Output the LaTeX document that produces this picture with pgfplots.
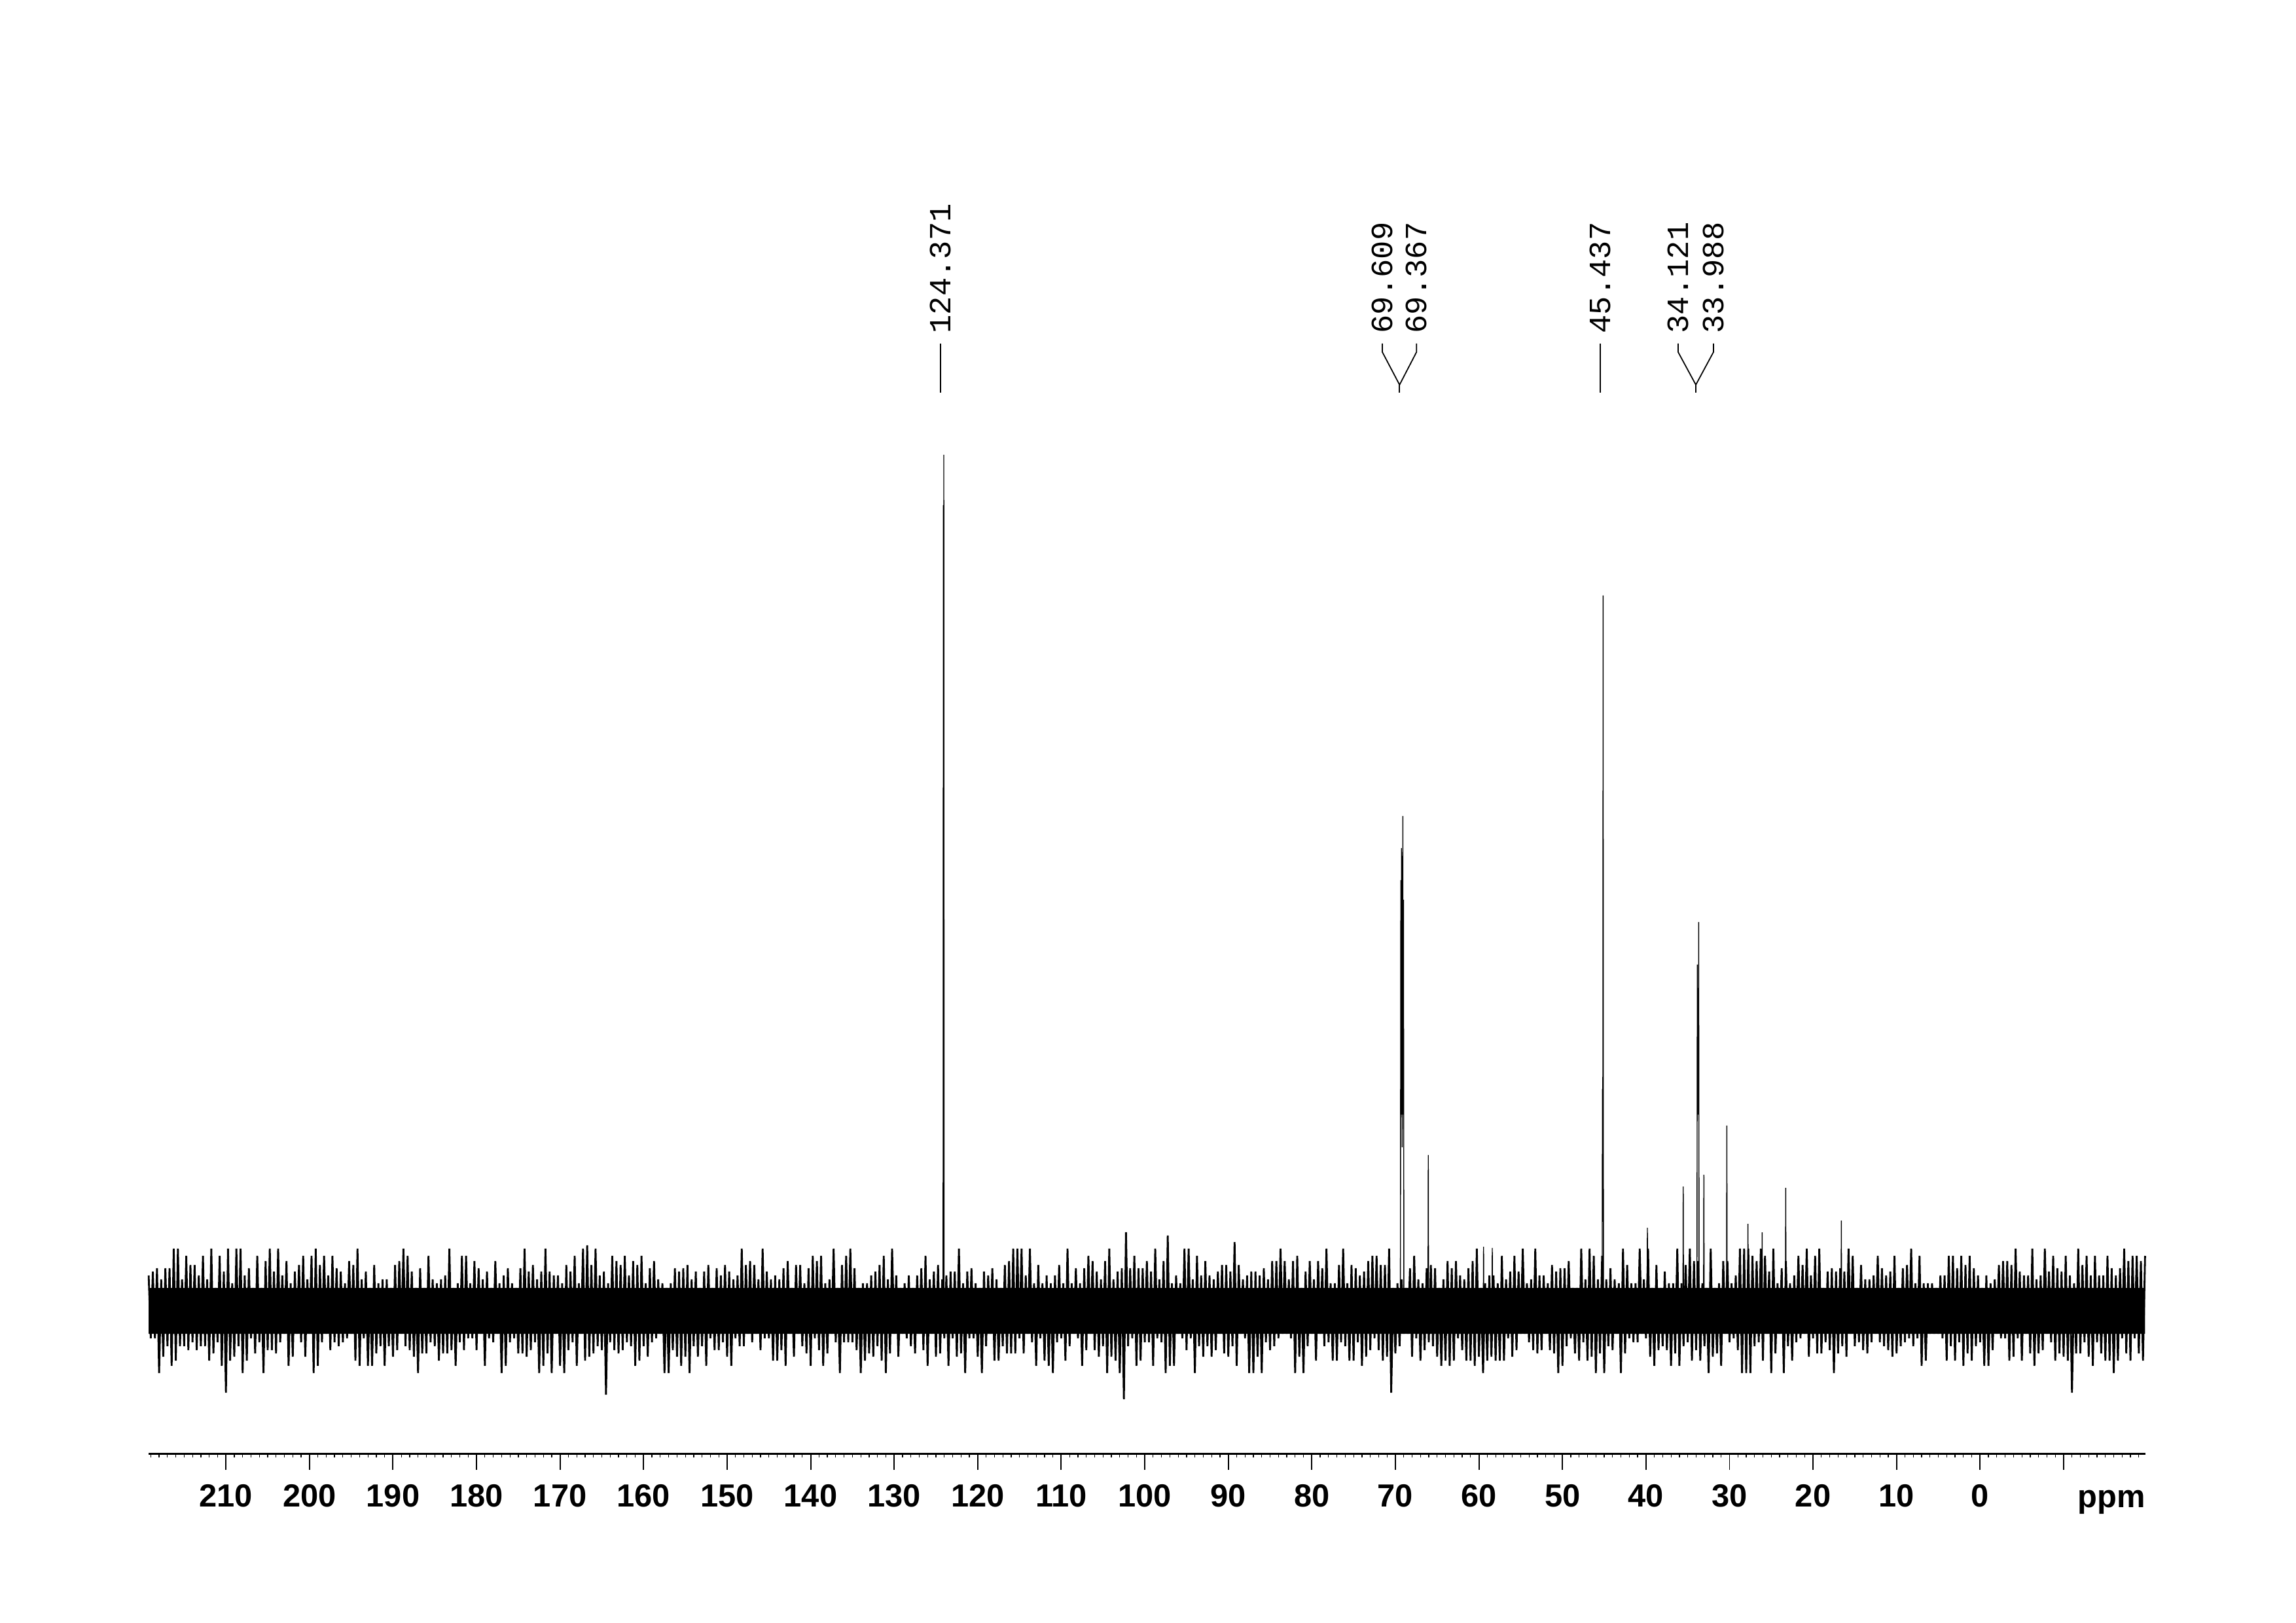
\documentclass[border=0pt]{standalone}
\usepackage{fontspec}
\setmainfont{Liberation Sans}
\newfontfamily\monofont{Liberation Mono}
\usepackage{pgfplots}
\pgfplotsset{compat=1.18}
\begin{document}
\begin{tikzpicture}
\path[use as bounding box] (0,0) rectangle (350.8mm,247.9mm);
\begin{axis}[
 at={(22.68mm,25.8mm)}, anchor=south west,
 scale only axis, width=305.15mm, height=212.1mm,
 x dir=reverse, xmin=-19.82, xmax=219.28, ymin=-218, ymax=1903,
 axis x line*=bottom, axis y line=none,
 axis line style={line width=0.85pt, -},
 xtick={-10,0,10,...,210},
 xticklabels={{},0,10,20,30,40,50,60,70,80,90,100,110,120,130,140,150,160,170,180,190,200,210},
 minor xtick={-19,-18,...,219},
 tick align=outside,
 major tick length=2.5mm, minor tick length=0.6mm,
 every major tick/.append style={line width=0.55pt, black},
 every minor tick/.append style={line width=0.35pt, black},
 xticklabel style={font=\bfseries\fontsize{13.9}{14}\selectfont, inner sep=0pt, anchor=north, yshift=-2.2mm},
 clip=false,
]
% dense core of the noise band
\addplot[fill=black, draw=none, mark=none] coordinates {(219.25,-35)(219.25,35)(-19.75,35)(-19.75,-35)(219.25,-35)};
% baseline noise
\addplot[black, mark=none, line width=0.8pt, line join=bevel] coordinates {
(219.25,54)
(219,-42)(218.75,60)(218.5,-42)(218.25,65)
(218,-95)(217.75,48)(217.5,-70)(217.25,65)
(217,-54)(216.75,65)(216.5,-84)(216.25,95)
(216,-76)(215.75,95)(215.5,-54)(215.25,48)
(215,-54)(214.75,84)(214.5,-60)(214.25,70)
(214,-48)(213.75,70)(213.5,-60)(213.25,54)
(213,-54)(212.75,84)(212.5,-54)(212.25,48)
(212,-76)(211.75,95)(211.5,-65)(211.25,35)
(211,-48)(210.75,84)(210.5,-84)(210.25,60)
(210,-125)(209.75,95)(209.5,-76)(209.25,42)
(209,-70)(208.75,95)(208.5,-54)(208.25,95)
(208,-95)(207.75,54)(207.5,-76)(207.25,65)
(207,-42)(206.75,35)(206.5,-65)(206.25,84)
(206,-48)(205.75,35)(205.5,-95)(205.25,76)
(205,-60)(204.75,95)(204.5,-60)(204.25,60)
(204,-65)(203.75,95)(203.5,-48)(203.25,54)
(203,-35)(202.75,76)(202.5,-84)(202.25,42)
(202,-70)(201.75,60)(201.5,-35)(201.25,70)
(201,-48)(200.75,84)(200.5,-70)(200.25,48)
(200,-35)(199.75,84)(199.5,-95)(199.25,95)
(199,-84)(198.75,70)(198.5,-48)(198.25,84)
(198,-35)(197.75,54)(197.5,-60)(197.25,84)
(197,-48)(196.75,65)(196.5,-54)(196.25,60)
(196,-48)(195.75,42)(195.5,-42)(195.25,76)
(195,-35)(194.75,70)(194.5,-76)(194.25,95)
(194,-84)(193.75,48)(193.5,-42)(193.25,60)
(193,-84)(192.75,35)(192.5,-84)(192.25,70)
(192,-65)(191.75,42)(191.5,-54)(191.25,48)
(191,-84)(190.75,48)(190.5,-54)(190.25,35)
(190,-70)(189.75,70)(189.5,-60)(189.25,76)
(189,-35)(188.75,95)(188.5,-54)(188.25,84)
(188,-60)(187.75,60)(187.5,-70)(187.25,35)
(187,-95)(186.75,65)(186.5,-65)(186.25,35)
(186,-65)(185.75,84)(185.5,-48)(185.25,48)
(185,-54)(184.75,42)(184.5,-76)(184.25,48)
(184,-65)(183.75,54)(183.5,-65)(183.25,95)
(183,-60)(182.75,35)(182.5,-84)(182.25,42)
(182,-48)(181.75,84)(181.5,-60)(181.25,84)
(181,-42)(180.75,42)(180.5,-42)(180.25,76)
(180,-60)(179.75,65)(179.5,-35)(179.25,48)
(179,-84)(178.75,60)(178.5,-42)(178.25,35)
(178,-48)(177.75,76)(177.5,-35)(177.25,42)
(177,-95)(176.75,54)(176.5,-84)(176.25,65)
(176,-48)(175.75,42)(175.5,-42)(175.25,35)
(175,-65)(174.75,65)(174.5,-65)(174.25,95)
(174,-70)(173.75,60)(173.5,-60)(173.25,70)
(173,-48)(172.75,48)(172.5,-95)(172.25,60)
(172,-84)(171.75,95)(171.5,-65)(171.25,60)
(171,-95)(170.75,54)(170.5,-35)(170.25,54)
(170,-84)(169.75,42)(169.5,-95)(169.25,70)
(169,-60)(168.75,60)(168.5,-48)(168.25,84)
(168,-84)(167.75,42)(167.5,-35)(167.25,95)
(167,-76)(166.75,100)(166.5,-70)(166.25,70)
(166,-65)(165.75,95)(165.5,-54)(165.25,54)
(165,-60)(164.75,60)(164.5,-128)(164.25,42)
(164,-48)(163.75,84)(163.5,-60)(163.25,76)
(163,-65)(162.75,70)(162.5,-60)(162.25,84)
(162,-48)(161.75,54)(161.5,-54)(161.25,76)
(161,-84)(160.75,70)(160.5,-76)(160.25,84)
(160,-54)(159.75,42)(159.5,-70)(159.25,65)
(159,-48)(158.75,76)(158.5,-42)(158.25,48)
(158,-35)(157.75,42)(157.5,-95)(157.25,35)
(157,-95)(156.75,42)(156.5,-60)(156.25,65)
(156,-70)(155.75,60)(155.5,-84)(155.25,65)
(155,-70)(154.75,70)(154.5,-95)(154.25,48)
(154,-54)(153.75,60)(153.5,-70)(153.25,35)
(153,-54)(152.75,60)(152.5,-84)(152.25,70)
(152,-42)(151.75,35)(151.5,-60)(151.25,65)
(151,-60)(150.75,54)(150.5,-48)(150.25,70)
(150,-70)(149.75,60)(149.5,-84)(149.25,48)
(149,-42)(148.75,54)(148.5,-54)(148.25,95)
(148,-54)(147.75,70)(147.5,-35)(147.25,76)
(147,-48)(146.75,70)(146.5,-35)(146.25,48)
(146,-60)(145.75,95)(145.5,-42)(145.25,60)
(145,-42)(144.75,48)(144.5,-76)(144.25,54)
(144,-76)(143.75,48)(143.5,-60)(143.25,65)
(143,-84)(142.75,76)(142.5,-35)(142.25,35)
(142,-70)(141.75,70)(141.5,-35)(141.25,70)
(141,-54)(140.75,42)(140.5,-65)(140.25,65)
(140,-84)(139.75,84)(139.5,-42)(139.25,76)
(139,-60)(138.75,84)(138.5,-84)(138.25,42)
(138,-65)(137.75,48)(137.5,-35)(137.25,95)
(137,-48)(136.75,35)(136.5,-95)(136.25,70)
(136,-48)(135.75,84)(135.5,-48)(135.25,95)
(135,-48)(134.75,65)(134.5,-60)(134.25,35)
(134,-95)(133.75,42)(133.5,-76)(133.25,42)
(133,-65)(132.75,54)(132.5,-70)(132.25,60)
(132,-54)(131.75,70)(131.5,-76)(131.25,84)
(131,-95)(130.75,48)(130.5,-65)(130.25,95)
(130,-35)(129.75,54)(129.5,-70)(129.25,35)
(129,-35)(128.75,42)(128.5,-42)(128.25,54)
(128,-54)(127.75,35)(127.5,-65)(127.25,54)
(127,-35)(126.75,65)(126.5,-60)(126.25,84)
(126,-84)(125.75,48)(125.5,-35)(125.25,60)
(125,-70)(124.75,70)(124.5,-65)(124.25,48)
(124,-42)(123.75,54)(123.5,-84)(123.25,60)
(123,-42)(122.75,60)(122.5,-70)(122.25,95)
(122,-65)(121.75,42)(121.5,-95)(121.25,60)
(121,-42)(120.75,65)(120.5,-42)(120.25,42)
(120,-70)(119.75,35)(119.5,-95)(119.25,60)
(119,-54)(118.75,54)(118.5,-35)(118.25,65)
(118,-76)(117.75,48)(117.5,-76)(117.25,35)
(117,-54)(116.75,70)(116.5,-65)(116.25,76)
(116,-65)(115.75,95)(115.5,-65)(115.25,95)
(115,-42)(114.75,95)(114.5,-65)(114.25,54)
(114,-35)(113.75,95)(113.5,-48)(113.25,42)
(113,-84)(112.75,70)(112.5,-42)(112.25,42)
(112,-76)(111.75,54)(111.5,-84)(111.25,42)
(111,-95)(110.75,54)(110.5,-48)(110.25,70)
(110,-42)(109.75,42)(109.5,-76)(109.25,95)
(109,-54)(108.75,42)(108.5,-35)(108.25,65)
(108,-42)(107.75,42)(107.5,-84)(107.25,65)
(107,-60)(106.75,84)(106.5,-35)(106.25,76)
(106,-60)(105.75,60)(105.5,-70)(105.25,48)
(105,-54)(104.75,76)(104.5,-95)(104.25,95)
(104,-70)(103.75,48)(103.5,-76)(103.25,60)
(103,-95)(102.75,65)(102.5,-135)(102.25,120)
(102,-54)(101.75,65)(101.5,-42)(101.25,84)
(101,-84)(100.75,65)(100.5,-76)(100.25,65)
(100,-48)(99.75,76)(99.5,-48)(99.25,60)
(99,-84)(98.75,95)(98.5,-42)(98.25,48)
(98,-48)(97.75,76)(97.5,-95)(97.25,115)
(97,-84)(96.75,42)(96.5,-84)(96.25,54)
(96,-35)(95.75,42)(95.5,-42)(95.25,95)
(95,-60)(94.75,95)(94.5,-42)(94.25,48)
(94,-95)(93.75,84)(93.5,-54)(93.25,54)
(93,-70)(92.75,76)(92.5,-54)(92.25,54)
(92,-70)(91.75,48)(91.5,-60)(91.25,60)
(91,-35)(90.75,70)(90.5,-65)(90.25,70)
(90,-70)(89.75,60)(89.5,-54)(89.25,105)
(89,-84)(88.75,70)(88.5,-35)(88.25,48)
(88,-42)(87.75,54)(87.5,-95)(87.25,60)
(87,-95)(86.75,60)(86.5,-70)(86.25,54)
(86,-95)(85.75,65)(85.5,-48)(85.25,48)
(85,-60)(84.75,76)(84.5,-54)(84.25,76)
(84,-42)(83.75,95)(83.5,-35)(83.25,76)
(83,-35)(82.75,48)(82.5,-42)(82.25,76)
(82,-95)(81.75,84)(81.5,-70)(81.25,35)
(81,-95)(80.75,60)(80.5,-54)(80.25,76)
(80,-35)(79.75,48)(79.5,-76)(79.25,76)
(79,-35)(78.75,65)(78.5,-54)(78.25,95)
(78,-48)(77.75,42)(77.5,-76)(77.25,42)
(77,-76)(76.75,70)(76.5,-48)(76.25,95)
(76,-54)(75.75,42)(75.5,-76)(75.25,70)
(75,-76)(74.75,65)(74.5,-48)(74.25,54)
(74,-84)(73.75,60)(73.5,-70)(73.25,76)
(73,-60)(72.75,84)(72.5,-42)(72.25,84)
(72,-60)(71.75,70)(71.5,-76)(71.25,70)
(71,-70)(70.75,95)(70.5,-125)(70.25,35)
(70,-65)(69.75,42)(69.5,-54)(69.25,48)
(69,-35)(68.75,35)(68.5,-35)(68.25,65)
(68,-70)(67.75,84)(67.5,-42)(67.25,48)
(67,-76)(66.75,42)(66.5,-60)(66.25,65)
(66,-48)(65.75,70)(65.5,-54)(65.25,65)
(65,-70)(64.75,35)(64.5,-84)(64.25,48)
(64,-76)(63.75,76)(63.5,-84)(63.25,65)
(63,-76)(62.75,76)(62.5,-42)(62.25,54)
(62,-60)(61.75,48)(61.5,-76)(61.25,65)
(61,-76)(60.75,76)(60.5,-84)(60.25,95)
(60,-70)(59.75,35)(59.5,-95)(59.25,42)
(59,-76)(58.75,54)(58.5,-70)(58.25,54)
(58,-76)(57.75,42)(57.5,-76)(57.25,84)
(57,-76)(56.75,48)(56.5,-42)(56.25,60)
(56,-70)(55.75,84)(55.5,-60)(55.25,60)
(55,-35)(54.75,95)(54.5,-35)(54.25,42)
(54,-48)(53.75,48)(53.5,-60)(53.25,95)
(53,-65)(52.75,54)(52.5,-60)(52.25,54)
(52,-35)(51.75,42)(51.5,-60)(51.25,70)
(51,-65)(50.75,60)(50.5,-95)(50.25,65)
(50,-84)(49.75,65)(49.5,-54)(49.25,76)
(49,-42)(48.75,35)(48.5,-65)(48.25,35)
(48,-76)(47.75,95)(47.5,-48)(47.25,48)
(47,-76)(46.75,95)(46.5,-70)(46.25,84)
(46,-95)(45.75,48)(45.5,-65)(45.25,84)
(45,-95)(44.75,48)(44.5,-54)(44.25,65)
(44,-60)(43.75,48)(43.5,-35)(43.25,42)
(43,-95)(42.75,95)(42.5,-65)(42.25,70)
(42,-42)(41.75,42)(41.5,-48)(41.25,42)
(41,-48)(40.75,95)(40.5,-35)(40.25,48)
(40,-42)(39.75,95)(39.5,-70)(39.25,35)
(39,-84)(38.75,70)(38.5,-60)(38.25,35)
(38,-54)(37.75,60)(37.5,-60)(37.25,42)
(37,-84)(36.75,42)(36.5,-65)(36.25,95)
(36,-84)(35.75,42)(35.5,-54)(35.25,70)
(35,-48)(34.75,95)(34.5,-76)(34.25,76)
(34,-60)(33.75,76)(33.5,-76)(33.25,42)
(33,-54)(32.75,35)(32.5,-95)(32.25,95)
(32,-70)(31.75,35)(31.5,-65)(31.25,42)
(31,-84)(30.75,76)(30.5,-35)(30.25,76)
(30,-48)(29.75,42)(29.5,-42)(29.25,54)
(29,-60)(28.75,95)(28.5,-95)(28.25,95)
(28,-95)(27.75,95)(27.5,-95)(27.25,84)
(27,-54)(26.75,76)(26.5,-48)(26.25,95)
(26,-76)(25.75,84)(25.5,-35)(25.25,60)
(25,-95)(24.75,95)(24.5,-65)(24.25,42)
(24,-35)(23.75,65)(23.5,-95)(23.25,76)
(23,-54)(22.75,42)(22.5,-76)(22.25,54)
(22,-48)(21.75,84)(21.5,-42)(21.25,70)
(21,-35)(20.75,95)(20.5,-70)(20.25,54)
(20,-42)(19.75,84)(19.5,-65)(19.25,95)
(19,-65)(18.75,35)(18.5,-48)(18.25,60)
(18,-60)(17.75,65)(17.5,-95)(17.25,60)
(17,-65)(16.75,65)(16.5,-54)(16.25,60)
(16,-70)(15.75,95)(15.5,-35)(15.25,84)
(15,-54)(14.75,35)(14.5,-48)(14.25,70)
(14,-60)(13.75,48)(13.5,-65)(13.25,48)
(13,-48)(12.75,54)(12.5,-35)(12.25,84)
(12,-48)(11.75,65)(11.5,-54)(11.25,54)
(11,-60)(10.75,60)(10.5,-70)(10.25,84)
(10,-65)(9.75,35)(9.5,-54)(9.25,65)
(9,-48)(8.75,70)(8.5,-42)(8.25,95)
(8,-54)(7.75,42)(7.5,-42)(7.25,84)
(7,-84)(6.75,42)(6.5,-76)(6.25,42)
(6,-35)(5.75,42)(5.5,-35)(5.25,35)
(5,-35)(4.75,54)(4.5,-42)(4.25,54)
(4,-76)(3.75,84)(3.5,-54)(3.25,84)
(3,-76)(2.75,65)(2.5,-48)(2.25,84)
(2,-84)(1.75,70)(1.5,-65)(1.25,84)
(1,-76)(0.75,65)(0.5,-54)(0.25,54)
(0,-48)(-0.25,35)(-0.5,-84)(-0.75,54)
(-1,-84)(-1.25,42)(-1.5,-60)(-1.75,48)
(-2,-35)(-2.25,70)(-2.5,-42)(-2.75,76)
(-3,-42)(-3.25,76)(-3.5,-76)(-3.75,70)
(-4,-70)(-4.25,95)(-4.5,-42)(-4.75,60)
(-5,-76)(-5.25,54)(-5.5,-35)(-5.75,54)
(-6,-65)(-6.25,95)(-6.5,-84)(-6.75,48)
(-7,-65)(-7.25,54)(-7.5,-60)(-7.75,95)
(-8,-35)(-8.25,60)(-8.5,-48)(-8.75,84)
(-9,-76)(-9.25,65)(-9.5,-65)(-9.75,60)
(-10,-70)(-10.25,84)(-10.5,-76)(-10.75,54)
(-11,-125)(-11.25,42)(-11.5,-65)(-11.75,95)
(-12,-65)(-12.25,70)(-12.5,-48)(-12.75,84)
(-13,-70)(-13.25,54)(-13.5,-84)(-13.75,84)
(-14,-48)(-14.25,54)(-14.5,-65)(-14.75,54)
(-15,-76)(-15.25,84)(-15.5,-76)(-15.75,65)
(-16,-95)(-16.25,54)(-16.5,-76)(-16.75,65)
(-17,-42)(-17.25,95)(-17.5,-65)(-17.75,76)
(-18,-76)(-18.25,84)(-18.5,-42)(-18.75,84)
(-19,-65)(-19.25,76)(-19.5,-76)(-19.75,84)
};
% signals
\addplot[black, mark=none, line width=0.4pt, line join=bevel] coordinates {
(124.15,0)(124.11,1231)(124.09,200)(124.06,1308)(124.02,0)
(69.40,0)(69.35,658)(69.31,300)(69.27,707)(69.19,250)(69.11,756)(69.07,300)(69.03,628)(68.98,0)
(66.10,0)(66.06,238)(66.02,0)
(59.48,0)(59.44,98)(59.40,0)
(58.44,0)(58.40,96)(58.36,0)
(45.25,0)(45.21,339)(45.17,200)(45.13,1093)(45.09,0)
(39.87,0)(39.83,127)(39.79,0)
(35.58,0)(35.54,190)(35.50,0)
(33.90,0)(33.85,529)(33.80,300)(33.77,440)(33.73,300)(33.69,594)(33.64,0)
(33.11,0)(33.07,208)(33.03,0)
(30.36,0)(30.32,283)(30.28,0)
(27.83,0)(27.79,133)(27.75,0)
(26.13,0)(26.09,120)(26.05,0)
(23.31,0)(23.27,188)(23.23,0)
(16.65,0)(16.61,138)(16.57,0)
};
% peak annotations
\begin{scope}[line width=0.5pt]
\draw (axis cs:124.46,1403) -- (axis cs:124.46,1478);
\draw (axis cs:45.47,1403) -- (axis cs:45.47,1478);
\draw (axis cs:71.56,1478) -- (axis cs:71.56,1465) -- (axis cs:69.50,1415) -- (axis cs:67.47,1465) -- (axis cs:67.47,1478);
\draw (axis cs:69.50,1415) -- (axis cs:69.50,1403);
\draw (axis cs:36.15,1478) -- (axis cs:36.15,1465) -- (axis cs:34.03,1415) -- (axis cs:31.92,1465) -- (axis cs:31.92,1478);
\draw (axis cs:34.03,1415) -- (axis cs:34.03,1403);
\end{scope}
\begin{scope}[every node/.style={rotate=90, anchor=west, inner sep=0pt, font=\monofont\fontsize{13.4}{14}\selectfont}]
\node at (axis cs:124.46,1493) {124.371};
\node at (axis cs:71.56,1493) {69.609};
\node at (axis cs:67.47,1493) {69.367};
\node at (axis cs:45.47,1493) {45.437};
\node at (axis cs:36.15,1493) {34.121};
\node at (axis cs:31.92,1493) {33.988};
\end{scope}
\node[anchor=base east, inner sep=0pt, yshift=-8.2mm, font=\bfseries\fontsize{13.9}{14}\selectfont] at (axis cs:-19.82,-218) {ppm};
\end{axis}
\end{tikzpicture}
\end{document}
